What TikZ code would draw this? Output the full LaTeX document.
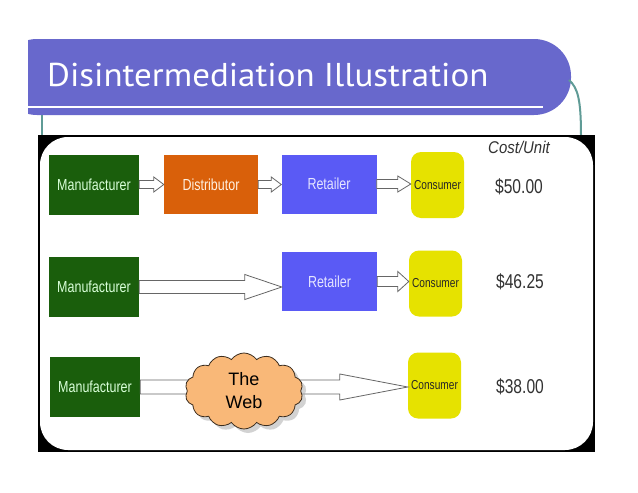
\documentclass[tikz,border=0pt]{standalone}
\usepackage{fontspec}
\setmainfont{Liberation Sans}
\newfontfamily\titlefont{PT Sans}
\usepackage{graphicx}
\usetikzlibrary{calc,shapes.symbols,shadows}

\definecolor{titleblue}{RGB}{104,104,204}
\definecolor{tealline}{RGB}{95,155,150}
\definecolor{makergreen}{RGB}{26,94,12}
\definecolor{distorange}{RGB}{217,96,10}
\definecolor{retailblue}{RGB}{90,90,245}
\definecolor{consyellow}{RGB}{230,226,0}
\definecolor{cloudfill}{RGB}{249,184,120}
\definecolor{clouddark}{RGB}{60,45,30}
\definecolor{pricegray}{RGB}{50,50,50}

% Texte horizontal serre
\newcommand{\sqz}[1]{\scalebox{0.78}[1]{#1}}
% Fleche pleine : depart, arrivee, demi-tige, demi-tete, longueur tete
\newcommand{\blockarrow}[5]{%
  \draw[flow] let \p1=(#1.east), \p2=(#2.west) in
    (\x1,\y1+#3pt) -- (\x2-#5pt,\y1+#3pt) -- (\x2-#5pt,\y1+#4pt) -- (\x2,\y1)
    -- (\x2-#5pt,\y1-#4pt) -- (\x2-#5pt,\y1-#3pt) -- (\x1,\y1-#3pt) -- cycle;}

\tikzset{
  stage/.style={inner sep=0pt, font=\fontsize{16}{18}\selectfont},
  maker/.style={stage, fill=makergreen, text=white!85!green, minimum width=90pt, minimum height=60pt},
  distributor/.style={stage, fill=distorange, text=white!88!orange, minimum width=94pt, minimum height=59pt},
  retailer/.style={stage, fill=retailblue, text=white!90!blue, minimum width=95pt, minimum height=59pt},
  consumer/.style={stage, fill=consyellow, text=black!85, rounded corners=10pt, minimum width=53pt, minimum height=66pt, font=\fontsize{13}{15}\selectfont},
  price/.style={inner sep=0pt, text=pricegray, font=\fontsize{20}{22}\selectfont},
  flow/.style={fill=white, draw=gray!80!black, line width=0.8pt},
  teal line/.style={draw=tealline, line width=2pt}
}

\begin{document}
\begin{tikzpicture}[x=1pt, y=-1pt]
  \useasboundingbox[fill=white] (0,0) rectangle (638,493);
  % Bandeau du titre
  \begin{scope}
    \clip (28,0) rectangle (638,493);
    \fill[titleblue, rounded corners=37pt] (0,39) rectangle (571,115);
  \end{scope}
  \draw[white, line width=2pt] (28,107) -- (543,107);
  \draw[teal line] (42,115) -- (42,136);
  \draw[teal line] (569,80) .. controls (578,88) and (581,100) .. (581,136);
  \node[anchor=base west, inner sep=0pt, text=white, font=\titlefont\fontsize{33}{38}\selectfont] (title) at (47,86) {\scalebox{1.06}[1]{Disintermediation Illustration}};
  % Cadre de l'image
  \fill[black] (38,135) rectangle (595,452);
  \fill[white, rounded corners=28pt] (40,137) rectangle (593,450);
  % Ligne 1
  \node[maker] (m1) at (94,184.5) {\sqz{Manufacturer}};
  \node[distributor] (d1) at (211,184.5) {\sqz{Distributor}};
  \node[retailer] (r1) at (329,184) {\sqz{Retailer}};
  \node[consumer] (c1) at (437.5,185) {\sqz{Consumer}};
  % Ligne 2
  \node[maker] (m2) at (94,287) {\sqz{Manufacturer}};
  \node[retailer] (r2) at (329.5,281.5) {\sqz{Retailer}};
  \node[consumer] (c2) at (435.5,283.5) {\sqz{Consumer}};
  % Ligne 3
  \node[maker] (m3) at (95,387) {\sqz{Manufacturer}};
  \node[consumer] (c3) at (434.5,385.5) {\sqz{Consumer}};
  % Fleches
  \blockarrow{m1}{d1}{4}{7.5}{10}
  \blockarrow{d1}{r1}{4}{7.5}{10}
  \blockarrow{r1}{c1}{4.5}{8}{13}
  \blockarrow{m2}{r2}{6.5}{12.5}{37}
  \blockarrow{r2}{c2}{5}{10}{11}
  \blockarrow{m3}{c3}{7}{13}{68}
  % Nuage
  \node[cloud, cloud puffs=14, cloud puff arc=110, aspect=1.5, draw=clouddark, line width=0.8pt, fill=cloudfill,
        drop shadow={fill=gray!70, shadow xshift=4pt, shadow yshift=-4pt},
        minimum width=118pt, minimum height=76pt, inner sep=0pt, align=center,
        font=\fontsize{18}{23}\selectfont] (web) at (244,391) {The\\Web};
  % Couts
  \node[inner sep=0pt, text=pricegray, font=\itshape\fontsize{17}{19}\selectfont] (cost) at (519,147) {\scalebox{0.88}[1]{Cost/Unit}};
  \node[price] (p1) at (519,187) {\sqz{\$50.00}};
  \node[price] (p2) at (520,282) {\sqz{\$46.25}};
  \node[price] (p3) at (520,387) {\sqz{\$38.00}};
\end{tikzpicture}
\end{document}
